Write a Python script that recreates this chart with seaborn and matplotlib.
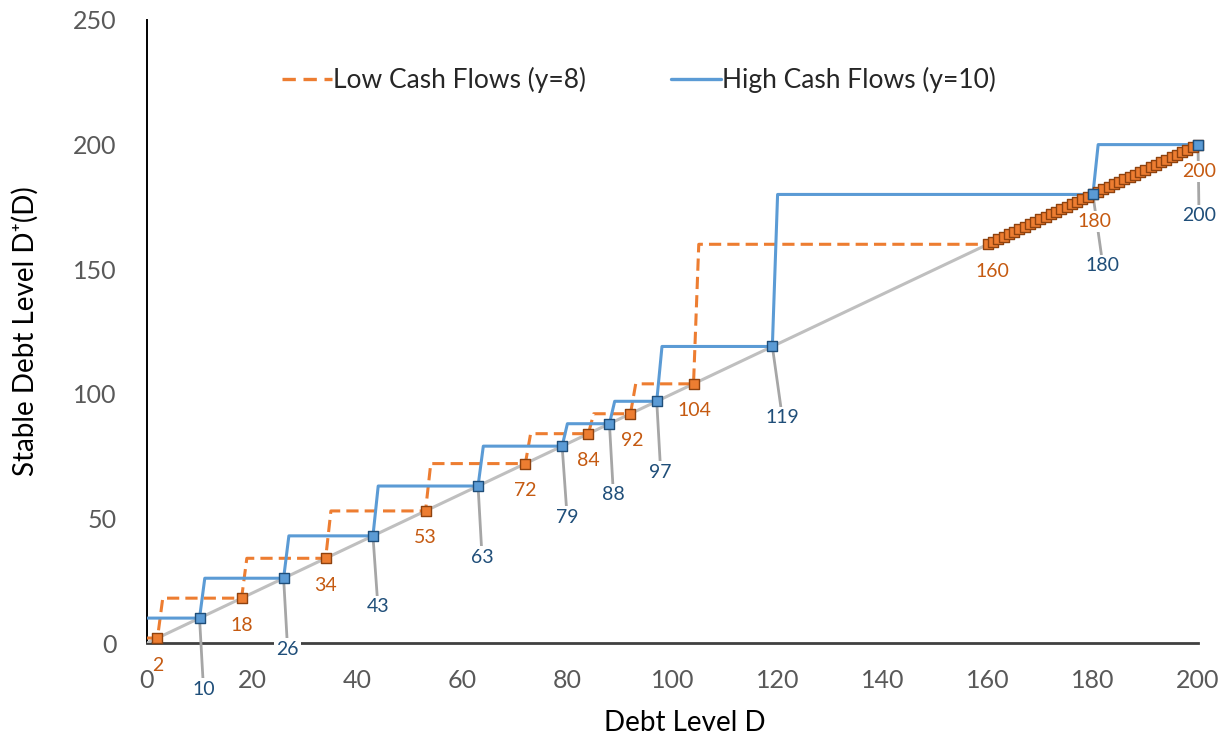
import matplotlib

matplotlib.use("Agg")
import matplotlib.pyplot as plt
import seaborn as sns
from matplotlib.lines import Line2D

# stable debt levels (squares on the 45 degree line)
LOW_STABLE = [2, 18, 34, 53, 72, 84, 92, 104,
              160, 161, 162, 163, 164, 165, 166, 167, 168, 169, 170,
              171, 172, 173, 174, 175, 176, 177, 178, 179, 180,
              181, 182, 183, 184, 185, 186, 187, 188, 189, 190,
              191, 192, 193, 194, 195, 196, 197, 198, 199, 200]
HIGH_STABLE = [10, 26, 43, 63, 79, 88, 97, 119, 180, 200]
LOW_LABELED = [2, 18, 34, 53, 72, 84, 92, 104, 160, 180, 200]
HIGH_LABELED = [10, 26, 43, 63, 79, 88, 97, 119, 180, 200]
DIAGONAL = [0, 200]
X_TICKS = [0, 20, 40, 60, 80, 100, 120, 140, 160, 180, 200]
Y_TICKS = [0, 50, 100, 150, 200, 250]
SERIES_NAMES = ["Low Cash Flows (y=8)", "High Cash Flows (y=10)"]

# label placement (pixels from the marker)
LOW_DX = [0, 0, 0, 0, 0, 0, 2, 1, 5, 2, 1]
HIGH_DX = [4, 4, 5, 4, 5, 4, 4, 10, 10, 1]
LOW_DY = -27
HIGH_DY = -71
# the "2" label sits on the "0" tick label, so it gets no white box
NO_BOX_LOW = [2]

ORANGE = "#ED7D31"
ORANGE_EDGE = "#8E420F"
ORANGE_TEXT = "#C55A11"
BLUE = "#5B9BD5"
BLUE_EDGE = "#1F4E79"
BLUE_TEXT = "#1F4E79"
GREY = "#BFBFBF"
LEADER = "#A6A6A6"
FONTS = ["Lato", "DejaVu Sans"]


def step_path(stable):
    # D+(D) = smallest stable level >= D, drawn between integer debt levels
    xs, ys = [0], [stable[0]]
    for i, s in enumerate(stable):
        if i > 0 and stable[i - 1] + 1 < s:
            xs.append(stable[i - 1] + 1)
            ys.append(s)
        xs.append(s)
        ys.append(s)
    return xs, ys


def add_labels(ax, values, offsets, dy, color, leader, z, no_box=()):
    for v, dx in zip(values, offsets):
        arrow = None
        if leader:
            arrow = dict(arrowstyle="-", color=LEADER, lw=2.0, shrinkA=0, shrinkB=0)
        box = None
        if v not in no_box:
            box = dict(boxstyle="square,pad=0.12", fc="white", ec="none")
        ax.annotate(
            str(v),
            xy=(v, v),
            xytext=(dx, dy),
            textcoords="offset pixels",
            ha="center",
            va="center",
            fontsize=14,
            color=color,
            bbox=box,
            arrowprops=arrow,
            zorder=z,
            annotation_clip=False,
        )


def main():
    sns.set_theme(style="white")
    plt.rcParams["font.family"] = FONTS

    fig = plt.figure(figsize=(12.31, 7.38), dpi=100)
    ax = fig.add_axes([0.1194, 0.1287, 0.8538, 0.8442])

    sns.lineplot(x=DIAGONAL, y=DIAGONAL, color=GREY, lw=2.2, ax=ax,
                 estimator=None, sort=False, zorder=3)

    low_x, low_y = step_path(LOW_STABLE)
    high_x, high_y = step_path(HIGH_STABLE)
    sns.lineplot(x=low_x, y=low_y, color=ORANGE, lw=2.2, linestyle=(0, (4, 2)),
                 ax=ax, estimator=None, sort=False, zorder=4)
    sns.lineplot(x=high_x, y=high_y, color=BLUE, lw=2.2, ax=ax,
                 estimator=None, sort=False, zorder=4.1)

    sns.scatterplot(x=LOW_STABLE, y=LOW_STABLE, marker="s", s=62, color=ORANGE,
                    edgecolor=ORANGE_EDGE, linewidth=1.0, ax=ax, zorder=5,
                    legend=False, clip_on=False)
    sns.scatterplot(x=HIGH_STABLE, y=HIGH_STABLE, marker="s", s=62, color=BLUE,
                    edgecolor=BLUE_EDGE, linewidth=1.0, ax=ax, zorder=5.1,
                    legend=False, clip_on=False)

    add_labels(ax, HIGH_LABELED, HIGH_DX, HIGH_DY, BLUE_TEXT, True, 2.6)
    add_labels(ax, LOW_LABELED, LOW_DX, LOW_DY, ORANGE_TEXT, False, 2.7, NO_BOX_LOW)

    ax.set_xlim(0, 200)
    ax.set_ylim(0, 250)
    ax.set_xticks(X_TICKS)
    ax.set_yticks(Y_TICKS)
    ax.tick_params(length=0, labelsize=18, labelcolor="#595959")
    ax.tick_params(axis="x", pad=19)
    ax.tick_params(axis="y", pad=22)

    for side in ["top", "right"]:
        ax.spines[side].set_visible(False)
    ax.spines["left"].set_color("#000000")
    ax.spines["left"].set_linewidth(1.4)
    ax.spines["bottom"].set_color("#404040")
    ax.spines["bottom"].set_linewidth(2.0)

    ax.set_xlabel("Debt Level D", fontsize=20, color="#000000", va="center")
    ax.xaxis.set_label_coords(0.512, -0.128)
    ax.set_ylabel("Stable Debt Level D\u207a(D)", fontsize=20, color="#000000", va="center")
    ax.yaxis.set_label_coords(-0.116, 0.500)

    handles = [
        Line2D([], [], color=ORANGE, lw=2.4, linestyle=(0, (4, 2.3))),
        Line2D([], [], color=BLUE, lw=2.4),
    ]
    ax.legend(handles, SERIES_NAMES, loc="center", bbox_to_anchor=(0.468, 0.904),
              ncol=2, frameon=False, fontsize=19, handlelength=1.9,
              handletextpad=0.05, columnspacing=3.2)

    fig.savefig("out.png", dpi=100)
    plt.close(fig)


if __name__ == "__main__":
    main()
